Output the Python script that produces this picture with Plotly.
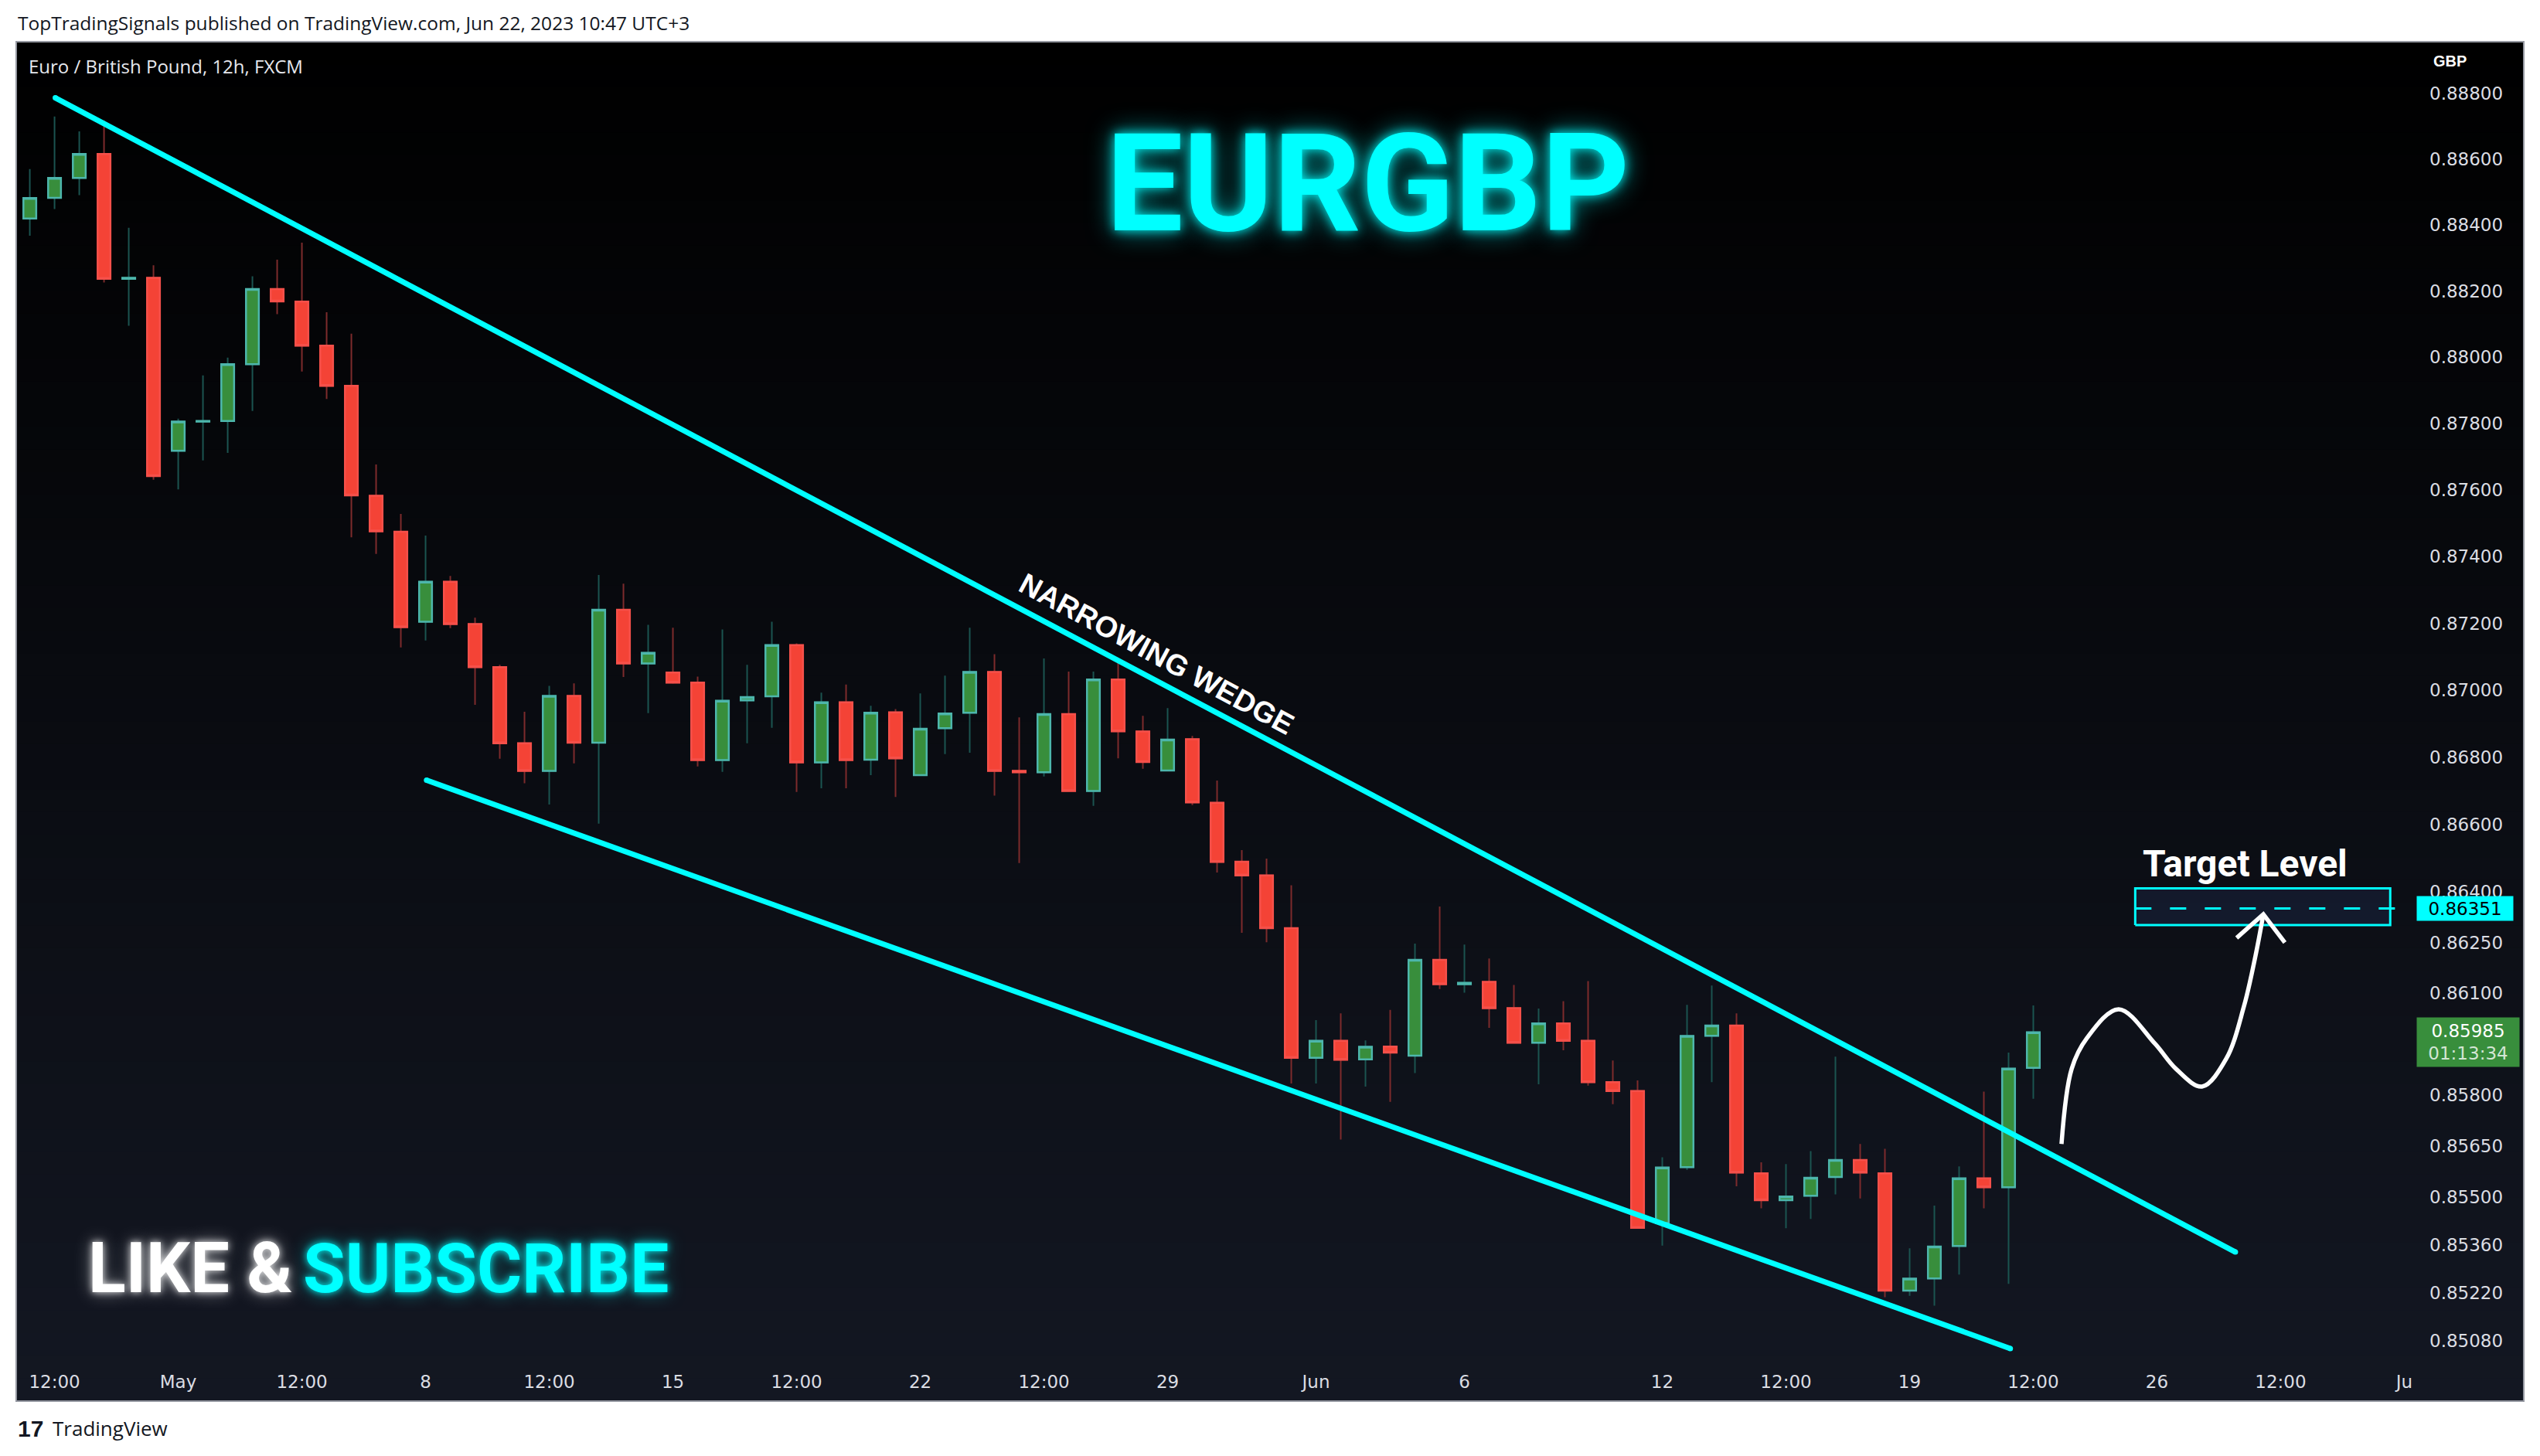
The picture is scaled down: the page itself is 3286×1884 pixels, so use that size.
import math
import plotly.graph_objects as go

W, H = 3286, 1884

# ---------------- data (EURGBP 12h, FXCM) ----------------
open_ = [0.88420, 0.88483, 0.88543, 0.88616, 0.88237, 0.88240, 0.87718, 0.87806, 0.87808, 0.87979,
         0.88206, 0.88168, 0.88035, 0.87914, 0.87583, 0.87475, 0.87205, 0.87325, 0.87198, 0.87069,
         0.86842, 0.86760, 0.86983, 0.86844, 0.87241, 0.87080, 0.87053, 0.87023, 0.86792, 0.86970,
         0.86982, 0.87135, 0.86785, 0.86964, 0.86793, 0.86934, 0.86747, 0.86887, 0.86933, 0.87055,
         0.86760, 0.86756, 0.86929, 0.86700, 0.87032, 0.86877, 0.86761, 0.86854, 0.86665, 0.86490,
         0.86449, 0.86293, 0.85910, 0.85960, 0.85905, 0.85943, 0.85916, 0.86199, 0.86127, 0.86134,
         0.86056, 0.85954, 0.86011, 0.85960, 0.85838, 0.85812, 0.85424, 0.85588, 0.85975, 0.86005,
         0.85570, 0.85491, 0.85504, 0.85559, 0.85609, 0.85570, 0.85226, 0.85262, 0.85357, 0.85555,
         0.85529, 0.85880]
high = [0.88570, 0.88730, 0.88685, 0.88718, 0.88392, 0.88278, 0.87815, 0.87945, 0.87999, 0.88245,
        0.88295, 0.88347, 0.88136, 0.88071, 0.87677, 0.87528, 0.87463, 0.87342, 0.87217, 0.87076,
        0.86936, 0.87013, 0.87021, 0.87345, 0.87319, 0.87196, 0.87187, 0.87041, 0.87182, 0.87076,
        0.87205, 0.87140, 0.86993, 0.87017, 0.86954, 0.86944, 0.86991, 0.87044, 0.87187, 0.87108,
        0.86919, 0.87095, 0.87056, 0.87056, 0.87094, 0.86924, 0.86947, 0.86864, 0.86731, 0.86524,
        0.86499, 0.86420, 0.86021, 0.86041, 0.85961, 0.86051, 0.86247, 0.86357, 0.86244, 0.86203,
        0.86125, 0.86055, 0.86077, 0.86136, 0.85902, 0.85843, 0.85617, 0.86066, 0.86123, 0.86041,
        0.85602, 0.85597, 0.85635, 0.85913, 0.85656, 0.85642, 0.85350, 0.85475, 0.85590, 0.85810,
        0.85925, 0.86064]
low = [0.88368, 0.88449, 0.88491, 0.88226, 0.88095, 0.87631, 0.87602, 0.87689, 0.87712, 0.87838,
       0.88130, 0.87957, 0.87874, 0.87458, 0.87408, 0.87128, 0.87149, 0.87186, 0.86957, 0.86796,
       0.86723, 0.86660, 0.86782, 0.86603, 0.87040, 0.86932, 0.87020, 0.86773, 0.86757, 0.86842,
       0.86888, 0.86697, 0.86708, 0.86708, 0.86747, 0.86682, 0.86745, 0.86810, 0.86814, 0.86686,
       0.86486, 0.86743, 0.86698, 0.86656, 0.86797, 0.86766, 0.86759, 0.86658, 0.86458, 0.86279,
       0.86251, 0.85834, 0.85834, 0.85669, 0.85825, 0.85780, 0.85865, 0.86113, 0.86102, 0.85998,
       0.85952, 0.85832, 0.85932, 0.85828, 0.85773, 0.85407, 0.85358, 0.85580, 0.85838, 0.85532,
       0.85467, 0.85409, 0.85436, 0.85508, 0.85496, 0.85207, 0.85211, 0.85182, 0.85273, 0.85467,
       0.85246, 0.85789]
close = [0.88482, 0.88543, 0.88616, 0.88237, 0.88240, 0.87642, 0.87806, 0.87808, 0.87979, 0.88206,
         0.88169, 0.88035, 0.87914, 0.87584, 0.87476, 0.87189, 0.87325, 0.87198, 0.87069, 0.86842,
         0.86760, 0.86983, 0.86844, 0.87241, 0.87080, 0.87112, 0.87023, 0.86792, 0.86969, 0.86980,
         0.87135, 0.86785, 0.86964, 0.86792, 0.86933, 0.86797, 0.86885, 0.86931, 0.87055, 0.86760,
         0.86756, 0.86929, 0.86700, 0.87032, 0.86878, 0.86786, 0.86853, 0.86666, 0.86489, 0.86449,
         0.86293, 0.85910, 0.85960, 0.85904, 0.85942, 0.85925, 0.86199, 0.86127, 0.86131, 0.86056,
         0.85954, 0.86011, 0.85960, 0.85838, 0.85812, 0.85410, 0.85587, 0.85974, 0.86005, 0.85572,
         0.85491, 0.85502, 0.85557, 0.85609, 0.85572, 0.85226, 0.85261, 0.85355, 0.85555, 0.85529,
         0.85878, 0.85985]
bar_idx = list(range(len(close)))

# time axis labels (bar index -> label)
tick_idx = [1, 6, 11, 16, 21, 26, 31, 36, 41, 46, 52, 58, 66, 71, 76, 81, 86, 91, 96]
tick_txt = ["12:00", "May", "12:00", "8", "12:00", "15", "12:00", "22", "12:00", "29",
            "Jun", "6", "12", "12:00", "19", "12:00", "26", "12:00", "Ju"]

# price axis labels
price_ticks = [0.888, 0.886, 0.884, 0.882, 0.880, 0.878, 0.876, 0.874, 0.872, 0.870,
               0.868, 0.866, 0.864, 0.8625, 0.861, 0.858, 0.8565, 0.855, 0.8536, 0.8522, 0.8508]

# drawings
upper_x, upper_y = [1.03, 89.17], [0.88787, 0.85339]
lower_x, lower_y = [16.04, 80.07], [0.86732, 0.85057]
target_price = 0.86351
box_x = [85.12, 95.43]
box_y = [0.86302, 0.86411]
curve_x = [82.14, 82.55, 83.17, 84.45, 85.91, 86.77, 87.82, 88.80, 89.51, 89.98, 90.30]
curve_y = [0.85656, 0.85877, 0.85968, 0.86053, 0.85952, 0.85877, 0.85825, 0.85907, 0.86060, 0.86210, 0.86334]
arrow_x = [89.22, 90.30, 91.17]
arrow_y = [0.86264, 0.86334, 0.86250]
last_price = close[-1]

# ---------------- styling ----------------
CYAN = "#00ffff"
UP_FILL, UP_BORDER, UP_WICK = "#388e3c", "#4db6ac", "#1b5450"
DN_FILL, DN_BORDER, DN_WICK = "#f44336", "#f5504a", "#7d2b2c"
AX_FONT = "DejaVu Sans"
TXT = "#dbdde3"


def px(x):
    return x / W


def py(y):
    return 1 - y / H


fig = go.Figure()

# wicks (full OHLC)
fig.add_trace(go.Candlestick(
    x=bar_idx, open=open_, high=high, low=low, close=close,
    increasing=dict(line=dict(color=UP_WICK, width=2), fillcolor=UP_FILL),
    decreasing=dict(line=dict(color=DN_WICK, width=2), fillcolor=DN_FILL),
    whiskerwidth=0, hoverinfo="skip", showlegend=False))
# bodies with border
body_hi = [max(o, c) for o, c in zip(open_, close)]
body_lo = [min(o, c) for o, c in zip(open_, close)]
fig.add_trace(go.Candlestick(
    x=bar_idx, open=open_, high=body_hi, low=body_lo, close=close,
    increasing=dict(line=dict(color=UP_BORDER, width=2.5), fillcolor=UP_FILL),
    decreasing=dict(line=dict(color=DN_BORDER, width=2.5), fillcolor=DN_FILL),
    whiskerwidth=0, hoverinfo="skip", showlegend=False))

# wedge lines
for xs, ys in [(upper_x, upper_y), (lower_x, lower_y)]:
    fig.add_trace(go.Scatter(x=xs, y=ys, mode="lines+markers",
                             line=dict(color=CYAN, width=7),
                             marker=dict(color=CYAN, size=7),
                             hoverinfo="skip", showlegend=False))

# target box
fig.add_trace(go.Scatter(
    x=[box_x[0], box_x[1], box_x[1], box_x[0], box_x[0]],
    y=[box_y[0], box_y[0], box_y[1], box_y[1], box_y[0]],
    mode="lines", fill="toself", fillcolor="rgba(28,40,70,0.45)",
    line=dict(color=CYAN, width=3), hoverinfo="skip", showlegend=False))
# dashed target line
fig.add_trace(go.Scatter(
    x=[box_x[0], 97], y=[target_price, target_price], mode="lines",
    line=dict(color=CYAN, width=3, dash="21px,24px"),
    hoverinfo="skip", showlegend=False))

# projected path
fig.add_trace(go.Scatter(x=curve_x, y=curve_y, mode="lines",
                         line=dict(color="white", width=5.5, shape="spline", smoothing=1.0),
                         hoverinfo="skip", showlegend=False))
fig.add_trace(go.Scatter(x=arrow_x, y=arrow_y, mode="lines",
                         line=dict(color="white", width=5.5),
                         hoverinfo="skip", showlegend=False))

# ---------------- background panel (gradient) ----------------
shapes = []
top, bot, left, right = 54, 1813, 21, 3265
n = 60
for k in range(n):
    t = k / (n - 1)
    r, g, b = int(round(0 + 19 * t)), int(round(0 + 23 * t)), int(round(0 + 34 * t))
    y0 = top + (bot - top) * k / n
    y1 = top + (bot - top) * (k + 1) / n + 1
    shapes.append(dict(type="rect", xref="paper", yref="paper", layer="below",
                       x0=px(left), x1=px(right), y0=py(min(y1, bot)), y1=py(y0),
                       fillcolor=f"rgb({r},{g},{b})", line=dict(width=0)))
shapes.append(dict(type="rect", xref="paper", yref="paper", layer="above",
                   x0=px(left), x1=px(right), y0=py(bot), y1=py(top),
                   fillcolor="rgba(0,0,0,0)", line=dict(color="#9598a1", width=2)))

# ---------------- annotations ----------------
ann = []
ann.append(dict(text="TopTradingSignals published on TradingView.com, Jun 22, 2023 10:47 UTC+3",
                x=px(21), y=py(30), xanchor="left", yanchor="middle",
                font=dict(family="Open Sans", size=24.5, color="#131722")))
ann.append(dict(text="Euro / British Pound, 12h, FXCM", x=px(35), y=py(85),
                xanchor="left", yanchor="middle",
                font=dict(family="Open Sans", size=24, color="#e6e8ee")))
ann.append(dict(text="<b>GBP</b>", x=px(3146), y=py(79), xanchor="left", yanchor="middle",
                font=dict(family="Liberation Sans", size=20, color="#ffffff")))
ann.append(dict(text="<b>EURGBP</b>", x=px(1769), y=py(238), xanchor="center", yanchor="middle",
                font=dict(family="Roboto", size=177, color=CYAN,
                          shadow="0px 0px 14px rgba(0,255,255,0.9), 0px 0px 34px rgba(0,255,255,0.6)")))
ann.append(dict(text="<b>NARROWING WEDGE</b>", x=px(1496), y=py(846), xanchor="center",
                yanchor="middle", textangle=28.3,
                font=dict(family="Liberation Sans", size=38, color="#ffffff")))
ann.append(dict(text="<b>Target Level</b>", x=px(2904), y=py(1117), xanchor="center",
                yanchor="middle", font=dict(family="Roboto", size=48, color="#ffffff")))
ann.append(dict(text="<b>LIKE &amp;</b>", x=px(112), y=py(1641), xanchor="left", yanchor="middle",
                font=dict(family="Roboto", size=90, color="#ffffff",
                          shadow="0px 0px 10px rgba(255,255,255,0.85), 0px 0px 22px rgba(255,255,255,0.5)")))
ann.append(dict(text="<b>SUBSCRIBE</b>", x=px(390), y=py(1641), xanchor="left", yanchor="middle",
                font=dict(family="Roboto", size=89, color=CYAN,
                          shadow="0px 0px 10px rgba(0,255,255,0.9), 0px 0px 22px rgba(0,255,255,0.5)")))
# price axis labels
ann.append(dict(text=f"{target_price:.5f}", x=px(3126), xref="paper", y=math.log10(target_price), yref="y",
                xanchor="left", yanchor="middle", width=118, height=25, borderpad=3,
                bgcolor=CYAN, align="center",
                font=dict(family=AX_FONT, size=23, color="#000000")))
ann.append(dict(text=f"{last_price:.5f}<br><span style='color:rgba(255,255,255,0.78)'>01:13:34</span>",
                x=px(3126), xref="paper", y=math.log10(last_price), yref="y", yshift=-13,
                xanchor="left", yanchor="middle", width=126, height=57, borderpad=3,
                bgcolor="#388e3c", align="center",
                font=dict(family=AX_FONT, size=23, color="#ffffff")))
# footer
ann.append(dict(text="<b>17</b>", x=px(21), y=py(1848), xanchor="left", yanchor="middle",
                font=dict(family="Liberation Sans", size=30, color="#131722")))
ann.append(dict(text="TradingView", x=px(66), y=py(1848), xanchor="left", yanchor="middle",
                font=dict(family="Open Sans", size=26, color="#131722")))
for a in ann:
    a.setdefault("xref", "paper")
    a.setdefault("yref", "paper")
    a["showarrow"] = False

ylo, yhi = 0.85023, 0.88958
fig.update_layout(
    width=W, height=H, margin=dict(l=0, r=0, t=0, b=0),
    paper_bgcolor="#ffffff", plot_bgcolor="rgba(0,0,0,0)",
    shapes=shapes, annotations=ann, showlegend=False,
    boxgap=0.26, boxmode="overlay", hovermode=False,
    xaxis=dict(domain=[px(21), px(3122)], range=[-0.549, 96.36], showgrid=False,
               zeroline=False, showline=False, rangeslider=dict(visible=False),
               tickmode="array", tickvals=tick_idx, ticktext=tick_txt, ticks="",
               ticklabelstandoff=12, tickfont=dict(family=AX_FONT, size=23, color=TXT)),
    yaxis=dict(domain=[py(1760), py(54)], type="log",
               range=[math.log10(ylo), math.log10(yhi)], side="right",
               showgrid=False, zeroline=False, showline=False,
               tickmode="array", tickvals=price_ticks,
               ticktext=[f"{v:.5f}" for v in price_ticks], ticks="",
               ticklabelstandoff=20, tickfont=dict(family=AX_FONT, size=23, color=TXT)),
)

fig.write_html("out.html", config={"displayModeBar": False, "staticPlot": True},
               post_script="document.body.style.margin='0px';document.body.style.overflow='hidden';")
